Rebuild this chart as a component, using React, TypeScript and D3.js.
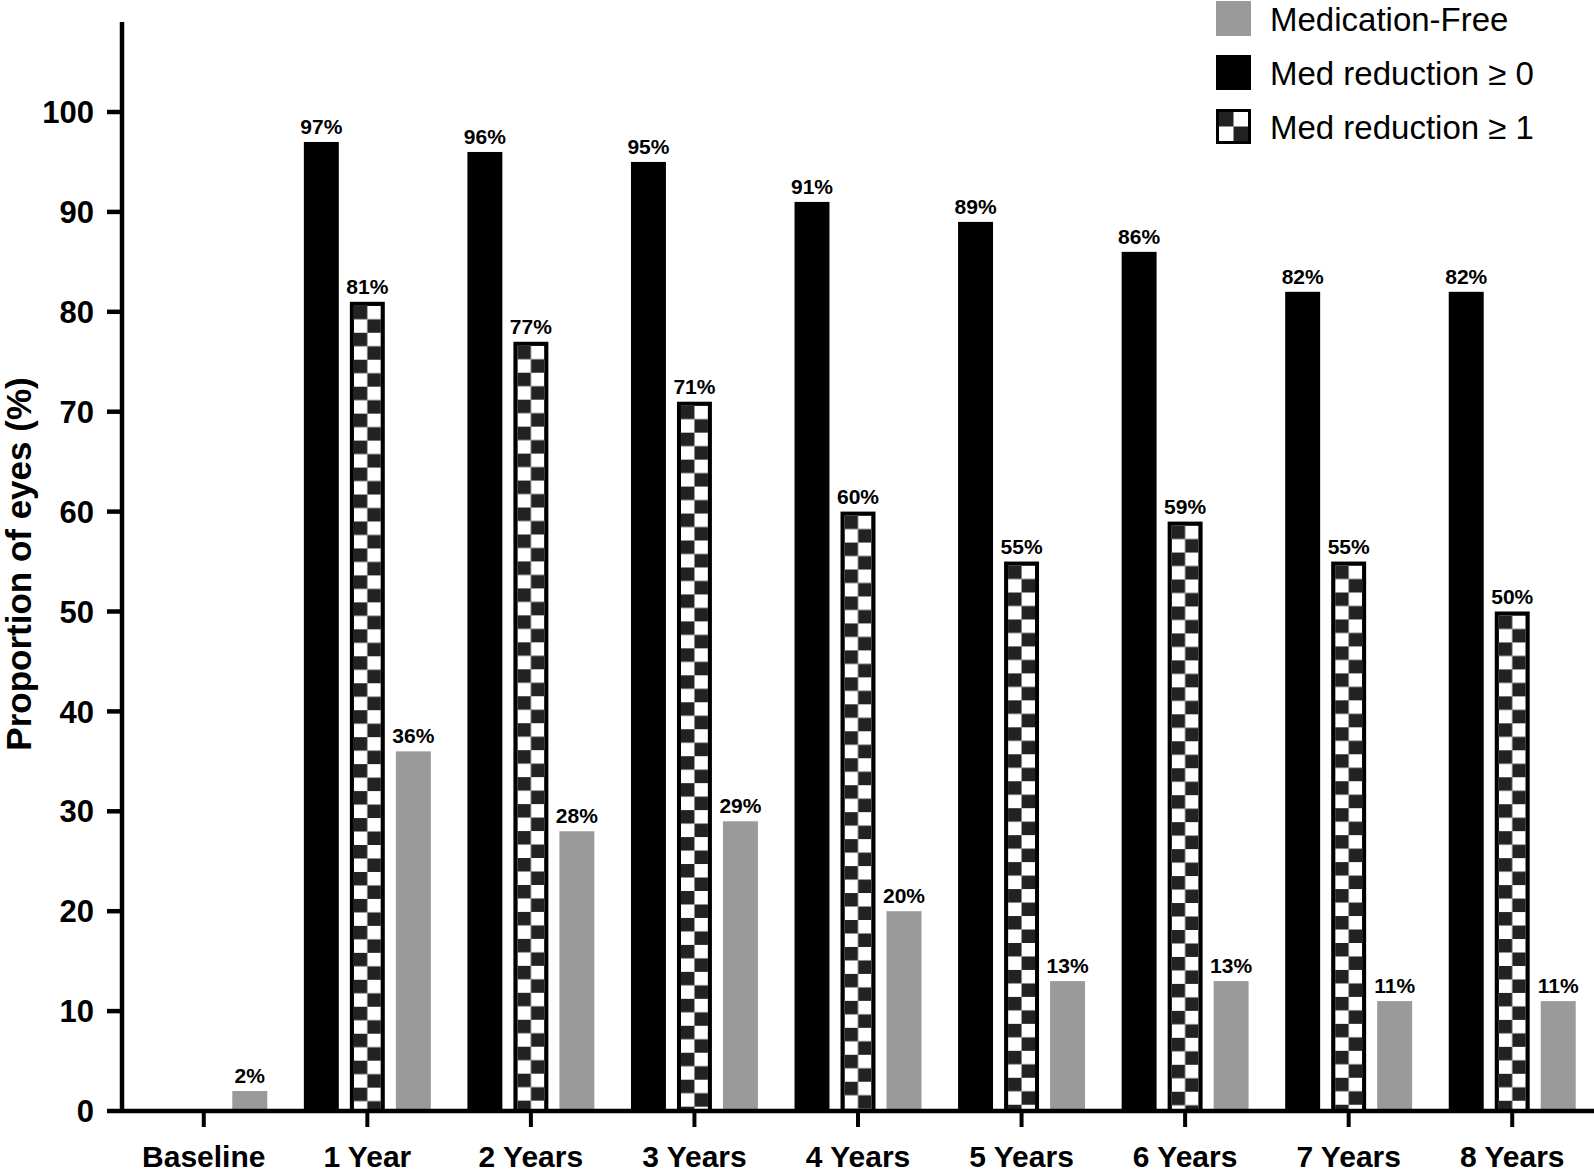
import React from 'react';
import { useEffect, useRef } from 'react';
import * as d3 from 'd3';

const categories = ['Baseline', '1 Year', '2 Years', '3 Years', '4 Years', '5 Years', '6 Years', '7 Years', '8 Years'];
const medReduction0 = [null, 97, 96, 95, 91, 89, 86, 82, 82];
const medReduction1 = [null, 81, 77, 71, 60, 55, 59, 55, 50];
const medicationFree = [2, 36, 28, 29, 20, 13, 13, 11, 11];
const yTicks = [0, 10, 20, 30, 40, 50, 60, 70, 80, 90, 100];

const seriesKeys = ['red0', 'red1', 'free'];
const legendItems = [
  { key: 'free', label: 'Medication-Free' },
  { key: 'red0', label: 'Med reduction \u2265 0' },
  { key: 'red1', label: 'Med reduction \u2265 1' },
];

const W = 1594;
const H = 1176;
const FONT = '"Liberation Sans", Arial, Helvetica, sans-serif';
const GRAY = '#9a9a9a';
const DARK = '#222';

export default function App() {
  const svgRef = useRef<SVGSVGElement>(null);

  useEffect(() => {
    const svg = d3.select(svgRef.current);
    svg.selectAll('*').remove();
    svg.attr('width', W).attr('height', H);

    const axisX = 122;
    const y = d3.scaleLinear().domain([0, 100]).range([1111, 112]);
    const x = d3.scaleBand().domain(categories).range([axisX, W]);
    const inner = d3.scaleBand().domain(seriesKeys).range([-69, 69]).paddingInner(0.24).paddingOuter(0.12);
    const bw = inner.bandwidth();

    const defs = svg.append('defs');

    const rows = categories.map((c, i) => ({
      cat: c,
      red0: medReduction0[i],
      red1: medReduction1[i],
      free: medicationFree[i],
    }));

    const g = svg.append('g');

    rows.forEach((d, i) => {
      const cx = (x(d.cat) as number) + x.bandwidth() / 2;
      seriesKeys.forEach(k => {
        const v = (d as any)[k];
        if (v == null) return;
        const bx = cx + (inner(k) as number);
        const top = y(v);
        const h = y(0) - top;
        if (k === 'red1') {
          const sw = 4;
          const cell = (bw - sw * 2) / 2;
          const id = `chk-${i}`;
          const p = defs.append('pattern')
            .attr('id', id)
            .attr('patternUnits', 'userSpaceOnUse')
            .attr('x', bx + sw)
            .attr('y', top + sw)
            .attr('width', cell * 2)
            .attr('height', cell * 2);
          p.append('rect').attr('width', cell * 2).attr('height', cell * 2).attr('fill', '#fff');
          p.append('rect').attr('width', cell).attr('height', cell).attr('fill', DARK);
          p.append('rect').attr('x', cell).attr('y', cell).attr('width', cell).attr('height', cell).attr('fill', DARK);
          g.append('rect')
            .attr('x', bx + sw / 2)
            .attr('y', top + sw / 2)
            .attr('width', bw - sw)
            .attr('height', h - sw / 2)
            .attr('fill', `url(#${id})`)
            .attr('stroke', '#000')
            .attr('stroke-width', sw);
        } else {
          g.append('rect')
            .attr('x', bx)
            .attr('y', top)
            .attr('width', bw)
            .attr('height', h)
            .attr('fill', k === 'free' ? GRAY : '#000');
        }
        g.append('text')
          .attr('x', bx + bw / 2)
          .attr('y', top - 8)
          .attr('text-anchor', 'middle')
          .attr('font-family', FONT)
          .attr('font-weight', 'bold')
          .attr('font-size', 21)
          .attr('fill', '#000')
          .text(`${v}%`);
      });
    });

    // axes
    svg.append('line')
      .attr('x1', axisX).attr('x2', axisX)
      .attr('y1', 22).attr('y2', y(0) + 2)
      .attr('stroke', '#000').attr('stroke-width', 4.5);
    svg.append('line')
      .attr('x1', axisX).attr('x2', W)
      .attr('y1', y(0)).attr('y2', y(0))
      .attr('stroke', '#000').attr('stroke-width', 4.5);

    const yAxis = svg.append('g');
    yTicks.forEach(t => {
      yAxis.append('line')
        .attr('x1', 107).attr('x2', axisX)
        .attr('y1', y(t)).attr('y2', y(t))
        .attr('stroke', '#000').attr('stroke-width', 4.5);
      yAxis.append('text')
        .attr('x', 94)
        .attr('y', y(t))
        .attr('dy', '0.36em')
        .attr('text-anchor', 'end')
        .attr('font-family', FONT)
        .attr('font-weight', 'bold')
        .attr('font-size', 31)
        .text(t);
    });

    const xAxis = svg.append('g');
    categories.forEach(c => {
      const cx = (x(c) as number) + x.bandwidth() / 2;
      xAxis.append('line')
        .attr('x1', cx).attr('x2', cx)
        .attr('y1', y(0)).attr('y2', y(0) + 16)
        .attr('stroke', '#000').attr('stroke-width', 4);
      xAxis.append('text')
        .attr('x', cx)
        .attr('y', 1167)
        .attr('text-anchor', 'middle')
        .attr('font-family', FONT)
        .attr('font-weight', 'bold')
        .attr('font-size', 30)
        .text(c);
    });

    svg.append('text')
      .attr('transform', `translate(31, 564) rotate(-90)`)
      .attr('text-anchor', 'middle')
      .attr('font-family', FONT)
      .attr('font-weight', 'bold')
      .attr('font-size', 35)
      .text('Proportion of eyes (%)');

    // legend
    const lg = svg.append('g');
    legendItems.forEach((item, i) => {
      const ly = 1 + i * 54;
      const s = 35;
      if (item.key === 'red1') {
        const c = (s - 6) / 2;
        lg.append('rect').attr('x', 1216).attr('y', ly).attr('width', s).attr('height', s).attr('fill', '#000');
        lg.append('rect').attr('x', 1219).attr('y', ly + 3).attr('width', s - 6).attr('height', s - 6).attr('fill', '#fff');
        lg.append('rect').attr('x', 1219).attr('y', ly + 3).attr('width', c).attr('height', c).attr('fill', DARK);
        lg.append('rect').attr('x', 1219 + c).attr('y', ly + 3 + c).attr('width', c).attr('height', c).attr('fill', DARK);
      } else {
        lg.append('rect')
          .attr('x', 1216).attr('y', ly)
          .attr('width', s).attr('height', s)
          .attr('fill', item.key === 'free' ? GRAY : '#000');
      }
      lg.append('text')
        .attr('x', 1270)
        .attr('y', ly + 30)
        .attr('font-family', FONT)
        .attr('font-size', 33)
        .attr('fill', '#000')
        .text(item.label);
    });
  }, []);

  return <svg ref={svgRef} style={{ position: 'absolute', left: 0, top: 0, background: '#fff' }}></svg>;
}
